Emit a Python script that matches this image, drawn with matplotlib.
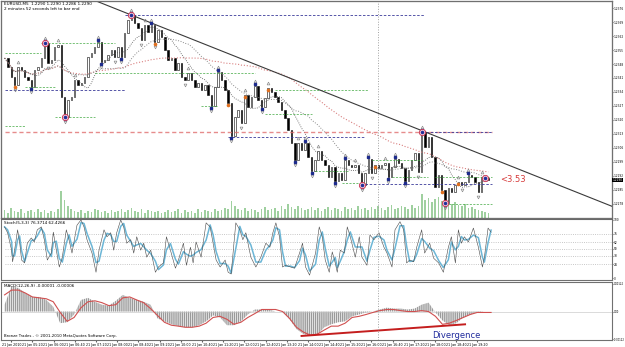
import matplotlib
matplotlib.use("Agg")
import matplotlib.pyplot as plt
import numpy as np
import pandas as pd

# EURUSD closes, one per bar
closes = [1.23510, 1.23465, 1.23415, 1.23375, 1.23465, 1.23450, 1.23415, 1.23400, 1.23365, 1.23450,
          1.23465, 1.23510, 1.23585, 1.23485, 1.23500, 1.23565, 1.23575, 1.23315, 1.23215, 1.23300,
          1.23315, 1.23400, 1.23375, 1.23385, 1.23415, 1.23515, 1.23535, 1.23565, 1.23590, 1.23490,
          1.23500, 1.23525, 1.23550, 1.23515, 1.23565, 1.23515, 1.23635, 1.23700, 1.23725, 1.23685,
          1.23660, 1.23600, 1.23675, 1.23640, 1.23675, 1.23590, 1.23650, 1.23615, 1.23550, 1.23500,
          1.23510, 1.23450, 1.23485, 1.23415, 1.23400, 1.23435, 1.23400, 1.23365, 1.23385, 1.23350,
          1.23375, 1.23325, 1.23270, 1.23365, 1.23440, 1.23400, 1.23350, 1.23285, 1.23120, 1.23215,
          1.23250, 1.23185, 1.23325, 1.23265, 1.23315, 1.23370, 1.23300, 1.23265, 1.23310, 1.23360,
          1.23340, 1.23315, 1.23290, 1.23250, 1.23210, 1.23150, 1.23085, 1.23000, 1.23085, 1.23050,
          1.23085, 1.23015, 1.22945, 1.23000, 1.23045, 1.23000, 1.22975, 1.22915, 1.22965, 1.22895,
          1.22935, 1.22900, 1.23000, 1.22975, 1.22965, 1.22975, 1.22935, 1.22875, 1.22935, 1.23005,
          1.22935, 1.22975, 1.22960, 1.22975, 1.22985, 1.22915, 1.22965, 1.23005, 1.22985, 1.22960,
          1.22895, 1.22950, 1.23000, 1.23035, 1.22940, 1.23140, 1.23065, 1.23115, 1.23015, 1.22865,
          1.22925, 1.22850, 1.22785, 1.22860, 1.22840, 1.22875, 1.22890, 1.22875, 1.22890, 1.22925,
          1.22915, 1.22890, 1.22840, 1.22915, 1.22910, 1.22900]

volumes = [8, 5, 10, 7, 6, 9, 5, 7, 8, 6, 9,
           6, 8, 5, 7, 6, 9,
           27, 18,
           12, 9, 7, 6, 8, 5, 7, 6, 9, 8, 6, 7,
           5, 8, 6, 7, 9, 6, 8, 10, 7, 6, 9, 5, 8, 7, 6,
           7, 5, 6, 8, 6, 7, 9, 5, 8, 6, 7, 5, 9, 6, 8, 7, 6, 9, 7, 8, 10, 9,
           17, 12, 9, 8, 10, 7, 9, 8, 6, 9, 11, 8, 9, 10, 7, 12, 9,
           14, 11, 9, 12, 10, 8, 9, 11, 8, 10, 7, 9, 11, 8, 10, 9, 7, 11, 9, 10, 8, 12, 9,
           10, 8, 11, 9, 12, 10, 8, 11, 13, 9, 10, 12, 11, 9, 13, 10, 12,
           24, 18, 20, 16, 19, 21, 17, 15, 18, 14, 16, 13, 12, 14, 10, 11, 9, 8, 7, 6, 5]

# stochastic %K (bar number, value)
stoch_bar = [0, 0.9, 2.1, 2.4, 3.0, 3.9, 4.5, 5.1, 6.0, 6.8, 8.0, 8.9, 9.8, 11.0, 11.9, 12.8, 14.0, 14.6,
             15.5, 16.4, 17.3, 18.5, 19.3, 20.2, 21.7, 22.9, 23.8, 24.7, 26.2, 27.4, 28.3, 29.8, 30.7,
             31.8, 32.7, 33.6, 34.8, 35.7, 36.6, 37.8, 38.7, 39.6, 40.8, 41.7, 42.6, 43.8, 45.2, 46.1,
             47.6, 48.5, 49.7, 51.2, 52.1, 53.6, 54.5, 55.7, 56.5, 57.4, 58.9, 60.4, 61.6, 62.5, 63.4,
             64.6, 66.1, 67.0, 67.9, 69.3, 70.5, 71.4, 72.3, 73.8, 75.3, 76.8, 78.3, 79.5, 80.4, 81.3,
             82.4, 83.3, 84.2, 85.7, 86.9, 88.4, 89.3, 90.2, 91.4, 93.2, 94.3, 95.2, 96.1, 97.3, 98.2,
             99.1, 99.7, 100.6, 101.8, 102.7, 103.6, 105.1, 106.3, 107.1, 108.6, 109.5, 110.7, 112.2,
             113.7, 114.6, 116.1, 117.0, 118.5, 119.6, 120.5, 121.4, 122.6, 123.5, 125.0, 125.9, 127.4,
             128.6, 130.1, 131.5, 133.0, 133.9, 135.1, 136.0, 136.9, 137.8, 139.0, 140.5, 142.0, 143.2,
             143.8, 144.9, 145.8]
stoch_main = [88, 78, 48, 28, 48, 83, 62, 31, 26, 60, 69, 62, 83, 88, 66, 31, 43, 79,
              48, 19, 36, 83, 66, 43, 91, 100, 88, 66, 43, 10, 48, 83, 71,
              78, 48, 78, 100, 88, 60, 66, 43, 71, 48, 60, 36, 48, 10, 19,
              26, 71, 48, 17, 31, 60, 22, 53, 26, 62, 36, 95, 88, 60, 31,
              19, 31, 10, 7, 95, 83, 66, 78, 36, 19, 36, 60, 53, 78, 95,
              71, 19, 22, 19, 17, 43, 60, 19, 5, 43, 88, 71, 31, 10, 45,
              26, 10, 48, 43, 88, 71, 36, 71, 36, 22, 74, 66, 78,
              53, 43, 19, 83, 97, 83, 26, 31, 28, 53, 83, 43, 60,
              34, 26, 10, 53, 71, 26, 83, 60, 71, 62, 86, 53, 19,
              36, 86, 79]
stoch_levels = [76.4, 61.8, 50, 38.2, 23.6]

# MACD histogram and signal, sampled every ~2 bars
macd_hist = [0.00030, 0.00111, 0.00103, 0.00081, 0.00064, 0.00064, 0.00051, 0.00021, -0.00051, -0.00047,
             -0.00013, 0.00051, 0.00060, 0.00043, 0.00030, 0.00026, 0.00047, 0.00073, 0.00060, 0.00051,
             0.00043, 0.00030, -0.00030, -0.00043, -0.00056, -0.00064, -0.00069, -0.00069, -0.00060, -0.00043,
             -0.00017, -0.00026, -0.00060, -0.00060, -0.00043, -0.00013, 0.00009, 0.00009, 0.00009, 0.0,
             0.0, -0.00034, -0.00077, -0.00099, -0.00107, -0.00103, -0.00069, -0.00056, -0.00047, -0.00043,
             -0.00021, -0.00013, -0.00004, 0.0, 0.00009, 0.00017, 0.00013, 0.00013, 0.00009, 0.00013,
             0.00030, 0.00039, -0.00004, -0.00039, -0.00060, -0.00051, -0.00026, -0.00013, -0.00004, 0.0, 0.0]
macd_signal = [0.00073, 0.00094, 0.00094, 0.00081, 0.00064, 0.00060, 0.00056, 0.00043, -0.00004, -0.00043,
               -0.00026, 0.00017, 0.00043, 0.00047, 0.00039, 0.00026, 0.00030, 0.00060, 0.00064, 0.00051,
               0.00039, 0.00013, -0.00017, -0.00047, -0.00060, -0.00064, -0.00069, -0.00069, -0.00064, -0.00051,
               -0.00026, -0.00021, -0.00034, -0.00056, -0.00047, -0.00026, -0.00009, 0.00009, 0.00009, 0.00009,
               0.0, -0.00030, -0.00069, -0.00090, -0.00103, -0.00099, -0.00081, -0.00064, -0.00064, -0.00051,
               -0.00026, -0.00021, -0.00013, -0.00004, 0.00004, 0.00009, 0.00009, 0.00004, 0.0, 0.0,
               0.00004, 0.0, -0.00021, -0.00056, -0.00051, -0.00039, -0.00026, -0.00013, -0.00004, -0.00004, -0.00004]
div_bars = [89, 138]
div_vals = [-0.00107, -0.00056]

# support / resistance levels (from bar, to bar, price)
green_from = [0, 11, 6, 27, 15, 0, 59, 81, 78, 93, 101, 110, 116, 129, 132]
green_to = [11, 33, 15, 75, 27, 6, 64, 109, 92, 103, 108, 125, 127, 146, 146]
green_price = [1.23535, 1.23585, 1.23365, 1.23435, 1.23215, 1.23170, 1.23270, 1.23350, 1.23230,
               1.22945, 1.22885, 1.23000, 1.22915, 1.22915, 1.22780]
blue_from = [36, 0, 67, 108, 125]
blue_to = [126, 36, 108, 146, 146]
blue_price = [1.23725, 1.23350, 1.23115, 1.22880, 1.23140]
red_level = 1.23140

trend_bars = [38, 125]
trend_prices = [1.23725, 1.23147]
pivot_bars = [12, 18, 38, 107, 125, 132, 144]
orange_bars = [3, 45, 67, 72, 79, 111, 131, 136]
sep_bar = 112

date_labels = ["21 Jan 2010", "21 Jan 05:20", "21 Jan 06:00", "21 Jan 06:40", "21 Jan 07:20", "21 Jan 08:00",
               "21 Jan 08:40", "21 Jan 09:20", "21 Jan 10:00", "21 Jan 10:40", "21 Jan 11:20", "21 Jan 12:00",
               "21 Jan 12:40", "21 Jan 13:20", "21 Jan 14:00", "21 Jan 14:40", "21 Jan 15:20", "21 Jan 16:00",
               "21 Jan 16:40", "21 Jan 17:20", "21 Jan 18:00", "21 Jan 18:40", "21 Jan 19:20"]

c = np.array(closes)
n = len(c)
idx = np.arange(n)
opens = np.r_[c[0], c[:-1]]

fig = plt.figure(figsize=(6.25, 3.47), dpi=100)
ax = fig.add_axes([0.002, 0.372, 0.977, 0.625])
ax2 = fig.add_axes([0.002, 0.193, 0.977, 0.176])
ax3 = fig.add_axes([0.002, 0.020, 0.977, 0.167])
xmax = 182
dash = (0, (3, 2))
small = 2.1

# volume behind the price
axv = ax.twinx()
axv.bar(idx, volumes, width=0.5, color='#9fd09f', linewidth=0)
axv.set_ylim(0, 217)
axv.set_yticks([])
ax.set_zorder(axv.get_zorder() + 1)
ax.patch.set_visible(False)

# moving averages
s = pd.Series(c)
ax.plot(idx, s.rolling(50, min_periods=1).mean(), ls=':', color='#d98080', lw=0.8)
ax.plot(idx, s.rolling(20, min_periods=1).mean(), ls=':', color='#8a8a8a', lw=0.7)
ax.plot(idx, s.rolling(9, min_periods=1).mean(), ls=':', color='#505050', lw=0.6)

# levels
ax.hlines(red_level, 0, n, color='#e07070', ls=dash, lw=1.0, alpha=0.8)
ax.hlines(green_price, green_from, green_to, color='#3fa83f', ls=dash, lw=0.5)
ax.hlines(blue_price, blue_from, blue_to, color='#3a3a9a', ls=dash, lw=0.6)
ax.axline((trend_bars[0], trend_prices[0]), (trend_bars[1], trend_prices[1]), color='#3a3a3a', lw=0.8)

# candles
up = c >= opens
ax.bar(idx[up], np.maximum(c - opens, 0.00002)[up], bottom=opens[up], width=0.45,
       facecolor='white', edgecolor='black', linewidth=0.4)
ax.bar(idx[~up], (opens - c)[~up], bottom=c[~up], width=0.45,
       facecolor='black', edgecolor='black', linewidth=0.4)

# fractal arrows
hi_f = [i for i in range(2, n - 2) if c[i] == c[i - 2:i + 3].max()]
lo_f = [i for i in range(2, n - 2) if c[i] == c[i - 2:i + 3].min()]
ax.plot(hi_f, c[hi_f] + 0.00025, ls='none', marker='^', ms=2.0, mfc='none', mec='#8c8c8c', mew=0.5)
ax.plot(lo_f, c[lo_f] - 0.00025, ls='none', marker='v', ms=2.0, mfc='none', mec='#8c8c8c', mew=0.5)
hi_b = [i for i in range(4, n - 4) if c[i] == c[i - 4:i + 5].max()]
lo_b = [i for i in range(4, n - 4) if c[i] == c[i - 4:i + 5].min()]
ax.plot(hi_b, c[hi_b] + 0.00012, ls='none', marker='s', ms=1.6, color='#1c2a8c')
ax.plot(lo_b, c[lo_b] - 0.00012, ls='none', marker='s', ms=1.6, color='#1c2a8c')
ax.plot(orange_bars, c[orange_bars] - 0.00012, ls='none', marker='o', ms=1.6, color='#e07020')
ax.plot(pivot_bars, c[pivot_bars], ls='none', marker='o', ms=4.5, mfc='#f3c6d6', mec='#c83050', mew=0.6)
ax.plot(pivot_bars, c[pivot_bars], ls='none', marker='o', ms=1.5, color='#22309a')

ax.text(n + 2.5, c[-1], '<3.53', color='#d63a3a', fontsize=6, va='center')
ax.text(0.004, 0.995, 'EURUSD,M5  1.2290 1.2290 1.2286 1.2290', transform=ax.transAxes,
        fontsize=3.0, va='top')
ax.text(0.004, 0.972, '2 minutes 52 seconds left to bar end', transform=ax.transAxes,
        fontsize=3.0, va='top')
ax.annotate('%.4f' % c[-1], xy=(1.0, c[-1]), xycoords=('axes fraction', 'data'),
            xytext=(0.5, 0), textcoords='offset points', fontsize=small, color='white', va='center',
            bbox=dict(boxstyle='square,pad=0.15', fc='black', ec='none'), annotation_clip=False)

ax.set_ylim(1.2271, 1.23795)
ticks = np.arange(1.2278, 1.2380, 0.0007)
ax.set_yticks(ticks)
ax.set_yticklabels(['%.4f' % t for t in ticks])

# stochastic
sig = pd.Series(stoch_main).rolling(2, min_periods=1).mean()
ax2.hlines(stoch_levels, 0, xmax, color='#b5b5b5', ls=':', lw=0.6)
ax2.plot(stoch_bar, sig, color='#6cb6d6', lw=1.1)
ax2.plot(stoch_bar, stoch_main, color='#4a4a4a', lw=0.4)
ax2.set_ylim(-3.4, 101.7)
ax2.set_yticks([100] + stoch_levels + [0])
ax2.set_yticklabels(['100', '76', '62', '50', '38', '24', '0'])
ax2.text(0.004, 0.97, 'Stoch(5,3,3) 76.3714 62.4266', transform=ax2.transAxes, fontsize=3.0, va='top')

# MACD
mx = np.linspace(0, n - 0.2, len(macd_hist))
ax3.axhline(0, color='#c0c0c0', lw=0.4)
ax3.fill_between(mx, 0, macd_hist, facecolor='white', edgecolor='#9a9a9a', hatch='||||||||', linewidth=0)
ax3.plot(mx, macd_signal, color='#d05050', lw=0.8)
ax3.plot(div_bars, div_vals, color='#c41e1e', lw=1.4)
ax3.text(135.5, -0.00103, 'Divergence', color='#1f2a9c', fontsize=6, ha='center', va='center')
ax3.set_ylim(-0.00125, 0.00129)
ax3.set_yticks([0.00122, 0, -0.00122])
ax3.set_yticklabels(['0.00122', '0.00', '-0.00122'])
ax3.text(0.004, 0.96, 'MACD(12,26,9) -0.00001 -0.00006', transform=ax3.transAxes, fontsize=3.0, va='top')
ax3.text(0.004, 0.03, 'Bronze Trades - \u00a9 2001-2010 MetaQuotes Software Corp.', transform=ax3.transAxes,
         fontsize=2.8, va='bottom')
pos = np.arange(len(date_labels)) * 6.35 + 2
ax3.set_xticks(pos)
ax3.set_xticklabels(date_labels, fontsize=2.3)
ax3.tick_params(axis='x', length=1.5, pad=0.5, color='#606060')

for a in (ax, ax2, ax3):
    a.set_xlim(-1, xmax)
    a.axvline(sep_bar, color='#a0a0a0', ls=':', lw=0.7)
    a.yaxis.tick_right()
    a.tick_params(axis='y', labelsize=small, length=1.0, pad=0.3, color='#606060')
    for sp in a.spines.values():
        sp.set_color('#707070')
        sp.set_linewidth(0.8)
for a in (ax, ax2):
    a.set_xticks([])
ax3.tick_params(axis='y', labelsize=1.8)

fig.savefig('out.png', dpi=100)
